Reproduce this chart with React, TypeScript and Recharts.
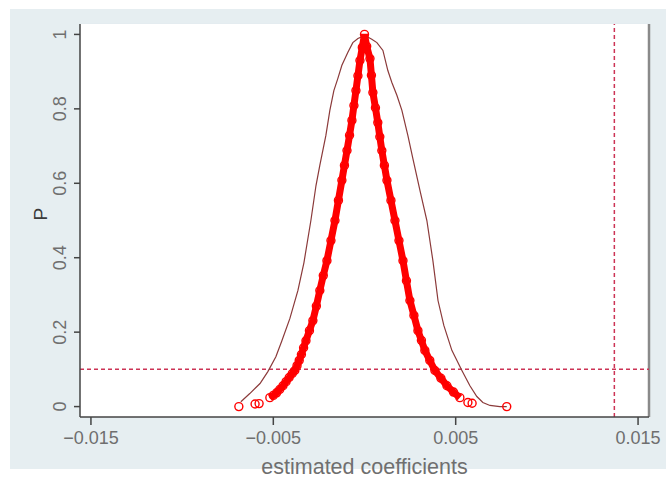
/* P-value curve of estimated coefficients with envelope and cut-off lines. */

import { ComposedChart, Line, Scatter, XAxis, YAxis, CartesianGrid, ReferenceLine, Label } from "recharts";

// [coefficient, p]
const envelopePts: [number, number][] = [
  [-0.00678, 0.013], [-0.00629, 0.035], [-0.00573, 0.062], [-0.0053, 0.094],
  [-0.00486, 0.134], [-0.00453, 0.177], [-0.00409, 0.237], [-0.00365, 0.312],
  [-0.00332, 0.387], [-0.00294, 0.5], [-0.00266, 0.594], [-0.00245, 0.648],
  [-0.00212, 0.728], [-0.0019, 0.796], [-0.00168, 0.849], [-0.00146, 0.882],
  [-0.00124, 0.917], [-0.00091, 0.952], [-0.00064, 0.978], [-0.00036, 0.989],
  [0.00002, 0.997], [0.0004, 0.987], [0.00068, 0.978], [0.00101, 0.957],
  [0.00128, 0.903], [0.0015, 0.871], [0.00178, 0.836], [0.00205, 0.796],
  [0.00238, 0.728], [0.00265, 0.667], [0.00304, 0.581], [0.00342, 0.5],
  [0.00375, 0.392], [0.00403, 0.285], [0.00435, 0.218], [0.00479, 0.151],
  [0.00534, 0.097], [0.00578, 0.056], [0.00616, 0.027], [0.00649, 0.011],
  [0.00688, 0.003], [0.00742, 0.0], [0.0078, 0.0],
];

const bandLeftPts: [number, number][] = [
  [-0.00519, 0.024], [-0.005, 0.03], [-0.00482, 0.037], [-0.00465, 0.046],
  [-0.00447, 0.056], [-0.0043, 0.067], [-0.00413, 0.078], [-0.00396, 0.089],
  [-0.00382, 0.097], [-0.0037, 0.11], [-0.00358, 0.124], [-0.00346, 0.14],
  [-0.00334, 0.158], [-0.00321, 0.177], [-0.00302, 0.204], [-0.00283, 0.231],
  [-0.00264, 0.27], [-0.00245, 0.312], [-0.00226, 0.352], [-0.00206, 0.392],
  [-0.00184, 0.446], [-0.00162, 0.5], [-0.00143, 0.554], [-0.00124, 0.608],
  [-0.0011, 0.648], [-0.00096, 0.688], [-0.00082, 0.729], [-0.00069, 0.769],
  [-0.00058, 0.809], [-0.00047, 0.849], [-0.00036, 0.889], [-0.00025, 0.93],
  [-0.00012, 0.965], [0, 1.0],
];

const bandRightPts: [number, number][] = [
  [0.00012, 0.968], [0.0003, 0.935], [0.00038, 0.89], [0.00046, 0.844],
  [0.0006, 0.803], [0.00073, 0.763], [0.00084, 0.725], [0.00095, 0.688],
  [0.00109, 0.648], [0.00123, 0.608], [0.00145, 0.554], [0.00167, 0.5],
  [0.00189, 0.446], [0.00211, 0.392], [0.0023, 0.338], [0.00249, 0.285],
  [0.00271, 0.245], [0.00293, 0.204], [0.00312, 0.178], [0.00331, 0.151],
  [0.00358, 0.124], [0.00386, 0.097], [0.00419, 0.076], [0.00452, 0.056],
  [0.00488, 0.039], [0.00523, 0.024],
];

const tailPts: [number, number][] = [
  [-0.00689, 0.0], [-0.006, 0.007], [-0.00578, 0.008],
  [0.00567, 0.011], [0.0059, 0.009], [0.0078, 0.0],
];

const xTicks = [-0.015, -0.005, 0.005, 0.015];
const yTicks = [0, 0.2, 0.4, 0.6, 0.8, 1];
const xDomain: [number, number] = [-0.0156, 0.0156];
const yDomain: [number, number] = [-0.028, 1.028];
const pCutoff = 0.1;
const coefCutoff = 0.0137;

const toRows = (pts: [number, number][]) => pts.map(([x, p]) => ({ x, p }));
const envelope = toRows(envelopePts);
const band = toRows([...bandLeftPts, ...bandRightPts]);
const tails = toRows(tailPts);

const FONT = "'Liberation Sans', Arial, sans-serif";
const GREY_TEXT = "#6f6f6f";

const fmtX = (v: number) => (v < 0 ? "\u2212" : "") + Math.abs(v).toFixed(3);

function YTick({ x, y, payload }: any) {
  return (
    <text
      transform={`translate(${x - 6}, ${y}) rotate(-90)`}
      textAnchor="middle"
      fontSize={18}
      fontFamily={FONT}
      fill={GREY_TEXT}
    >
      {String(payload.value)}
    </text>
  );
}

const Ring = (props: any) => (
  <circle cx={props.cx} cy={props.cy} r={4} fill="none" stroke="#ff0000" strokeWidth={1.4} />
);

export default function App() {
  return (
    <div style={{ position: "absolute", left: 0, top: 0, width: 666, height: 479, background: "#fff", overflow: "hidden" }}>
      <div style={{ position: "absolute", left: 10, top: 9, width: 656, height: 460, background: "#e6eef1" }} />
      <div style={{ position: "absolute", left: 0, top: 0 }}>
        <ComposedChart width={666} height={479} margin={{ top: 24, right: 17, bottom: 0, left: 0 }}>
          <rect x={80} y={24} width={569} height={393} fill="#ffffff" />
          <CartesianGrid stroke="#e3ebef" strokeWidth={1.5} />
          <XAxis
            type="number"
            dataKey="x"
            domain={xDomain}
            ticks={xTicks}
            allowDataOverflow
            tickFormatter={fmtX}
            height={62}
            tickSize={8}
            tickMargin={6}
            stroke="#444"
            strokeWidth={1.5}
            tick={{ fontSize: 18, fontFamily: FONT, fill: GREY_TEXT }}
          >
            <Label value="estimated coefficients" position="insideBottom" offset={5} fontSize={21.5} fontFamily={FONT} fill={GREY_TEXT} />
          </XAxis>
          <YAxis
            type="number"
            dataKey="p"
            domain={yDomain}
            ticks={yTicks}
            allowDataOverflow
            width={80}
            tickSize={6}
            stroke="#444"
            strokeWidth={1.5}
            tick={<YTick />}
          >
            <Label value="P" angle={-90} position="insideLeft" offset={40} fontSize={19} fontFamily={FONT} fill="#3a3a3a" />
          </YAxis>
          <ReferenceLine x={xDomain[1]} stroke="#8a8a8a" strokeWidth={2.5} />
          <ReferenceLine y={pCutoff} stroke="#cc3355" strokeWidth={1.5} strokeDasharray="4 3" />
          <ReferenceLine x={coefCutoff} stroke="#cc3355" strokeWidth={1.5} strokeDasharray="4 3" />
          <Line data={envelope} dataKey="p" type="linear" dot={false} stroke="#8b3a3a" strokeWidth={1.2} isAnimationActive={false} />
          <Line data={band} dataKey="p" type="linear" dot={false} stroke="#ff0000" strokeWidth={7} isAnimationActive={false} />
          <Scatter data={band} dataKey="p" shape={<Ring />} isAnimationActive={false} />
          <Scatter data={tails} dataKey="p" shape={<Ring />} isAnimationActive={false} />
        </ComposedChart>
      </div>
    </div>
  );
}
